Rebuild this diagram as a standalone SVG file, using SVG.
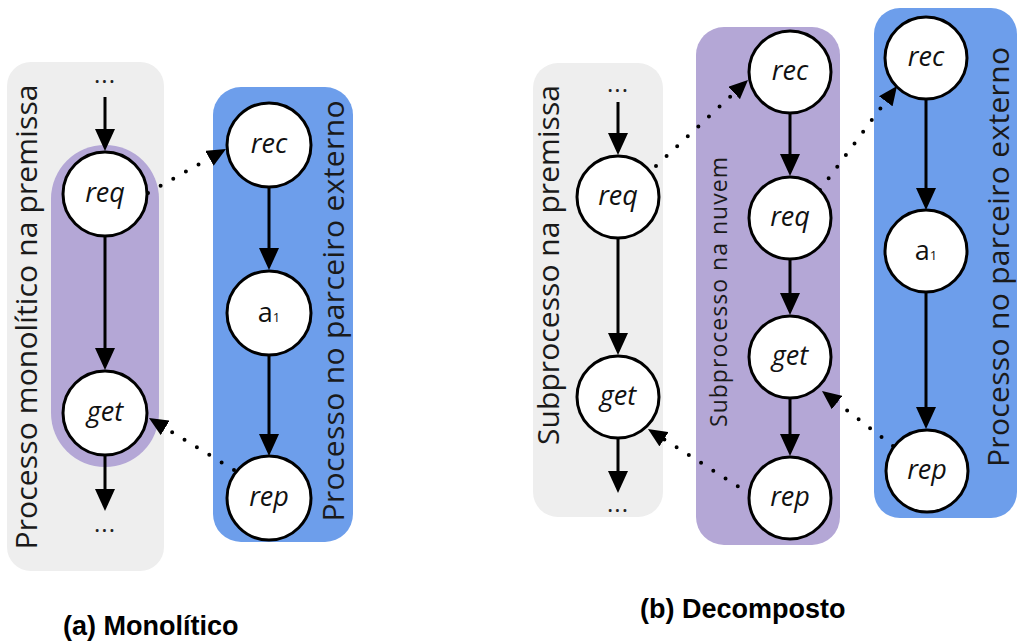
<svg xmlns="http://www.w3.org/2000/svg" width="1017" height="644" viewBox="0 0 1017 644">
<defs>
<style>
.gray{fill:#eeeeee}
.purple{fill:#b4a7d6}
.blue{fill:#6d9eeb}
.node circle{fill:#fff;stroke:#000;stroke-width:3}
.lbl{font-family:"Open Sans","Noto Sans",sans-serif;font-style:italic;font-size:27px;text-anchor:middle;fill:#111}
.lblr{font-family:"Open Sans","Noto Sans",sans-serif;font-size:27px;text-anchor:middle;fill:#111}
.big{font-family:"Open Sans","Noto Sans",sans-serif;font-size:30px;text-anchor:middle;fill:#1a1a1a}
.mid{font-family:"Open Sans","Noto Sans",sans-serif;font-size:23px;text-anchor:middle;fill:#1a1a1a}
.dots{font-family:"Open Sans","Noto Sans",sans-serif;font-size:24px;text-anchor:middle;letter-spacing:1px;fill:#222}
.cap{font-family:"Liberation Sans",Arial,sans-serif;font-weight:bold;font-size:27px;fill:#000}
.edge{stroke:#000;stroke-width:3;fill:none;marker-end:url(#ah)}
.dotted{stroke:#000;stroke-width:4;stroke-linecap:round;stroke-dasharray:0 14.5;fill:none;marker-end:url(#ahd)}
</style>
<marker id="ah" viewBox="0 0 22 20" refX="12" refY="10" markerWidth="22" markerHeight="20" markerUnits="userSpaceOnUse" orient="auto"><path d="M0,0 L22,10 L0,20 z" fill="#000"/></marker>
<marker id="ahd" viewBox="0 0 19 17" refX="9" refY="8.5" markerWidth="19" markerHeight="17" markerUnits="userSpaceOnUse" orient="auto"><path d="M0,0 L19,8.5 L0,17 z" fill="#000"/></marker>
</defs>

<g id="containers">
<rect id="a-gray" class="gray" x="7" y="62" width="157" height="509" rx="24"/>
<rect id="a-purple" class="purple" x="51" y="145" width="108" height="322" rx="54"/>
<rect id="a-blue" class="blue" x="213" y="87" width="140" height="455" rx="28"/>
<rect id="b-gray" class="gray" x="533" y="63" width="130" height="454" rx="25"/>
<rect id="b-purple" class="purple" x="696" y="27" width="144" height="518" rx="28"/>
<rect id="b-blue" class="blue" x="874" y="8" width="143" height="510" rx="26"/>
</g>

<g id="container-labels">
<text class="big" transform="translate(37,317) rotate(-90)" textLength="465" lengthAdjust="spacing">Processo monolítico na premissa</text>
<text class="big" transform="translate(344,311) rotate(-90)" textLength="421" lengthAdjust="spacing">Processo no parceiro externo</text>
<text class="big" transform="translate(559,265) rotate(-90)" textLength="360" lengthAdjust="spacing">Subprocesso na premissa</text>
<text class="mid" transform="translate(727,292) rotate(-90)" textLength="270" lengthAdjust="spacing">Subprocesso na nuvem</text>
<text class="big" transform="translate(1009,257) rotate(-90)" textLength="420" lengthAdjust="spacing">Processo no parceiro externo</text>
</g>

<g id="connectors">
<path class="edge" d="M105,97 L105,141"/>
<path class="edge" d="M105,236 L105,360"/>
<path class="edge" d="M105,455 L105,501"/>
<path class="edge" d="M269,187 L269,260"/>
<path class="edge" d="M269,355 L269,446"/>
<path class="dotted" d="M148,193 L217.3,153.9"/>
<path class="dotted" d="M234,470 L157.5,423.2"/>

<path class="edge" d="M618,102 L618,145"/>
<path class="edge" d="M618,238 L618,345"/>
<path class="edge" d="M618,438 L618,483"/>
<path class="edge" d="M790,113 L790,166"/>
<path class="edge" d="M790,259 L790,305"/>
<path class="edge" d="M790,398 L790,446"/>
<path class="edge" d="M926,99 L926,200"/>
<path class="edge" d="M926,291 L926,419"/>
<path class="dotted" d="M656,166 L740.7,86.8"/>
<path class="dotted" d="M820,190 L891.05,94.04"/>
<path class="dotted" d="M750,494 L656.4,434.4"/>
<path class="dotted" d="M893,446 L829.9,397.1"/>
</g>

<g id="a-dots-top"><text class="dots" x="105" y="83">...</text></g>
<g id="a-dots-bottom"><text class="dots" x="105" y="532">...</text></g>
<g id="a-req" class="node"><circle cx="105" cy="194" r="42"/><text class="lbl" x="105" y="202">req</text></g>
<g id="a-get" class="node"><circle cx="105" cy="413" r="42"/><text class="lbl" x="105" y="421">get</text></g>
<g id="a-rec" class="node"><circle cx="269" cy="145" r="42"/><text class="lbl" x="269" y="153">rec</text></g>
<g id="a-a1" class="node"><circle cx="269" cy="313" r="42"/><text class="lblr" x="269" y="322">a<tspan font-size="13">1</tspan></text></g>
<g id="a-rep" class="node"><circle cx="269" cy="498" r="42"/><text class="lbl" x="269" y="506">rep</text></g>

<g id="b-dots-top"><text class="dots" x="618" y="92">...</text></g>
<g id="b-dots-bottom"><text class="dots" x="618" y="512">...</text></g>
<g id="b-req1" class="node"><circle cx="618" cy="197" r="41"/><text class="lbl" x="618" y="205">req</text></g>
<g id="b-get1" class="node"><circle cx="618" cy="397" r="41"/><text class="lbl" x="618" y="405">get</text></g>
<g id="b-rec2" class="node"><circle cx="790" cy="72" r="41"/><text class="lbl" x="790" y="80">rec</text></g>
<g id="b-req2" class="node"><circle cx="790" cy="218" r="41"/><text class="lbl" x="790" y="226">req</text></g>
<g id="b-get2" class="node"><circle cx="790" cy="357" r="41"/><text class="lbl" x="790" y="365">get</text></g>
<g id="b-rep2" class="node"><circle cx="790" cy="498" r="41"/><text class="lbl" x="790" y="506">rep</text></g>
<g id="b-rec3" class="node"><circle cx="926" cy="58" r="41"/><text class="lbl" x="926" y="66">rec</text></g>
<g id="b-a1" class="node"><circle cx="926" cy="251" r="41"/><text class="lblr" x="926" y="260">a<tspan font-size="13">1</tspan></text></g>
<g id="b-rep3" class="node"><circle cx="927" cy="471" r="41"/><text class="lbl" x="927" y="479">rep</text></g>

<g id="captions">
<text class="cap" x="63" y="635">(a) Monolítico</text>
<text class="cap" x="640" y="618">(b) Decomposto</text>
</g>
</svg>
